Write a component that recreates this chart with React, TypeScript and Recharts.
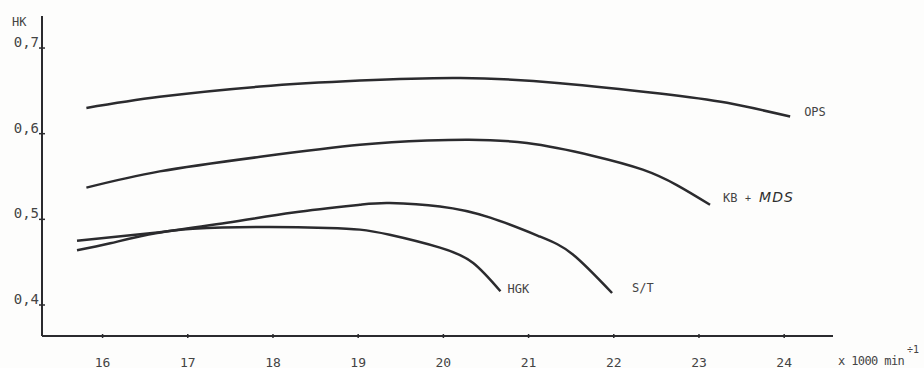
import { LineChart, Line, XAxis, YAxis } from 'recharts';

// HK curves, x in 1000 min^-1
const opsRpm = [15.81, 16.67, 17.85, 19.02, 20.2, 21.37, 22.54, 23.33, 24.07];
const opsHk = [0.630, 0.643, 0.655, 0.662, 0.665, 0.659, 0.647, 0.636, 0.620];

const kbRpm = [15.81, 16.67, 17.85, 19.02, 19.81, 20.3, 20.98, 21.76, 22.34, 22.74, 23.13];
const kbHk = [0.537, 0.556, 0.573, 0.587, 0.592, 0.593, 0.589, 0.574, 0.558, 0.540, 0.517];

const hgkRpm = [15.7, 16.67, 17.06, 17.85, 18.64, 19.02, 19.37, 19.96, 20.35, 20.67];
const hgkHk = [0.475, 0.485, 0.489, 0.491, 0.490, 0.488, 0.482, 0.467, 0.449, 0.416];

const stRpm = [15.7, 16.09, 16.64, 17.46, 18.24, 19.02, 19.37, 19.96, 20.55, 21.13, 21.52, 21.98];
const stHk = [0.464, 0.472, 0.484, 0.496, 0.508, 0.517, 0.519, 0.515, 0.502, 0.480, 0.459, 0.414];

const xTicks = [16, 17, 18, 19, 20, 21, 22, 23, 24];
const yTicks = [0.4, 0.5, 0.6, 0.7];

const toPoints = (xs: number[], ys: number[]) => xs.map((x, i) => ({ x, y: ys[i] }));

const INK = '#2b2b2e';
const TEXT = '#444';
const FONT = '"DejaVu Sans Mono", monospace';

const XTick = ({ x, y, payload }: any) => (
  <g>
    <line x1={x} y1={y - 2} x2={x} y2={y + 2} stroke={INK} strokeWidth={1.5} />
    <text x={x} y={y + 26} textAnchor="middle" dominantBaseline="central" fontSize={13} fontFamily={FONT} fill={TEXT}>
      {payload.value}
    </text>
  </g>
);

const YTick = ({ x, y, payload }: any) => (
  <g>
    <line x1={x - 3} y1={y} x2={x + 3} y2={y} stroke={INK} strokeWidth={1.5} />
    <text x={x - 3} y={y - 6} textAnchor="end" dominantBaseline="central" fontSize={14} fontFamily={FONT} fill={TEXT}>
      {payload.value.toFixed(1).replace('.', ',')}
    </text>
  </g>
);

const endLabel = (last: number, dx: number, dy: number, render: (x: number, y: number) => any) =>
  (props: any) => {
    if (props.index !== last) return null;
    return <g key="end">{render(props.x + dx, props.y + dy)}</g>;
  };

const plainLabel = (text: string) => (x: number, y: number) => (
  <text x={x} y={y} dominantBaseline="central" fontSize={12} fontFamily={FONT} fill={TEXT}>{text}</text>
);

export default function App() {
  const series = [
    { key: 'OPS', data: toPoints(opsRpm, opsHk), label: endLabel(opsRpm.length - 1, 14, -5, plainLabel('OPS')) },
    {
      key: 'KB', data: toPoints(kbRpm, kbHk), label: endLabel(kbRpm.length - 1, 13, -7, (x, y) => (
        <g>
          <text x={x} y={y} dominantBaseline="central" fontSize={12} fontFamily={FONT} fill={TEXT}>KB</text>
          <text x={x + 22} y={y + 1} dominantBaseline="central" fontSize={10} fontFamily={FONT} fill={TEXT}>+</text>
          <text x={x + 36} y={y - 1} dominantBaseline="central" fontSize={14} fontStyle="italic" letterSpacing={1}
            fontFamily='"DejaVu Sans", sans-serif' fill="#2e2e2e">MDS</text>
        </g>
      )),
    },
    { key: 'HGK', data: toPoints(hgkRpm, hgkHk), label: endLabel(hgkRpm.length - 1, 7, -2, plainLabel('HGK')) },
    { key: 'ST', data: toPoints(stRpm, stHk), label: endLabel(stRpm.length - 1, 20, -5, plainLabel('S/T')) },
  ];

  return (
    <div style={{ position: 'absolute', left: 0, top: 0, width: 924, height: 368, background: '#fdfdfc' }}>
      <LineChart width={924} height={368} margin={{ top: 16, right: 91, left: 0, bottom: 0 }}>
        <XAxis
          type="number"
          dataKey="x"
          domain={[15.289, 24.573]}
          ticks={xTicks}
          height={32}
          allowDataOverflow
          tickSize={0}
          tickMargin={0}
          tick={<XTick />}
          axisLine={{ stroke: INK, strokeWidth: 2 }}
        />
        <YAxis
          type="number"
          dataKey="y"
          domain={[0.3638, 0.7374]}
          ticks={yTicks}
          width={42}
          allowDataOverflow
          tickSize={0}
          tickMargin={0}
          tick={<YTick />}
          axisLine={{ stroke: INK, strokeWidth: 2 }}
        />
        {series.map((s) => (
          <Line
            key={s.key}
            data={s.data}
            dataKey="y"
            type="natural"
            stroke={INK}
            strokeWidth={2.5}
            dot={false}
            isAnimationActive={false}
            label={s.label}
          />
        ))}
      </LineChart>
      <div style={{ position: 'absolute', left: 12, top: 15, fontFamily: FONT, fontSize: 12, color: TEXT }}>HK</div>
      <div style={{ position: 'absolute', left: 838, top: 354, fontFamily: FONT, fontSize: 12, letterSpacing: -0.6, color: TEXT, whiteSpace: 'nowrap', lineHeight: '14px' }}>
        x 1000 min
        <span style={{ position: 'absolute', left: 69, top: -11, fontSize: 10, letterSpacing: 0 }}>÷1</span>
      </div>
    </div>
  );
}
